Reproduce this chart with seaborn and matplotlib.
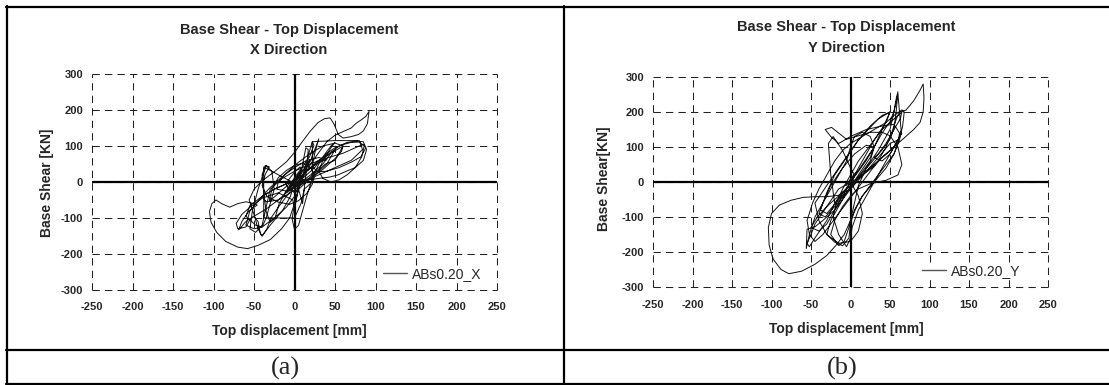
import matplotlib
matplotlib.use("Agg")
import matplotlib.pyplot as plt
from matplotlib.lines import Line2D
import pandas as pd
import seaborn as sns

# ---------------------------------------------------------------- data
# Hysteresis path, X direction (top displacement [mm], base shear [kN])
disp_x = [
    0, 4, 9, 7, 1, -6, -11, -6, 3, 11,
    16, 19, 13, 1, -14, -25, -31, -28, -20, -10,
    0, 10, 20, 25, 22, 15, 5, -6, -20, -34,
    -40, -36, -31, -36, -40, -38, -35, -30, -24, -19,
    -9, 0, 10, 19, 24, 22, 18, 12, 5, 0,
    -3, 0, 5, 10, 15, 22, 30, 40, 50, 60,
    70, 80, 86, 83, 75, 65, 55, 45, 35, 30,
    35, 45, 50, 45, 35, 25, 10, -5, -20, -35,
    -46, -55, -61, -66, -69, -65, -56, -46, -50, -60,
    -70, -80, -90, -97, -102, -105, -103, -96, -85, -70,
    -58, -45, -30, -16, -6, 0, 5, 10, 20, 30,
    40, 50, 60, 70, 76, 82, 88, 92, 90, 85,
    79, 70, 60, 54, 49, 44, 37, 29, 19, 9,
    0, -10, -24, -39, -50, -56, -50, -45, -40, -34,
    -29, -20, -10, 0, 10, 25, 40, 55, 65, 75,
    85, 89, 85, 75, 64, 54, 44, 30, 15, 5,
    -2, 6, -6, 9, -9, 13, -12, 7, -3, -20,
    -38, -38, -38, -20, 0, 8, 12, 22, 22, 22,
    50, 80, 84, 70, 40, 20, 0,
    # further cycles
    15, 30, 40, 30, 15, 0, -15, -30, -40, -35,
    -20, -5, 10, 25, 38, 50, 60, 50, 35, 20,
    5, -10, -20, -22, -10, 5, 20, 35, 50, 58,
    60, 45, 35, 20, 5, -5, 0, 10, 25, 40,
    50, 30, 10, 0, -10, -25, -40, -55, -60, -50,
    -40, -25, -10, 0, 5, 0, -10, -25, -40, -55,
    -60, -48, -40, -35, -30, -25, -28, -35, -45, -52,
    -55, -48, -40, -35, -30, -15, 0, 15, 30, 45,
    60, 75, 85, 88, 82, 70, 55, 40, 28, 22,
    25, 30, 20, 10, 5, 10, 12, 15, 17, 14,
    10, 6, 3, 0, -2, -20, -40, -55, -65, -72,
    -70, -60, -55, -50, -45, -42, -40, -30, -15, -5,
    0,
]
shear_x = [
    0, 12, 28, 42, 30, 10, -6, -22, -12, 16,
    46, 62, 40, 10, -20, -42, -52, -20, 12, 32,
    46, 52, 40, 20, -6, -32, -52, -62, -56, -40,
    -10, 22, 42, 46, 20, -30, -82, -112, -100, -60,
    -20, 12, 42, 72, 102, 112, 82, 30, -22, -62,
    -102, -132, -120, -80, -40, 10, 50, 80, 95, 104,
    110, 111, 100, 70, 40, 20, 6, 0, 10, 30,
    60, 95, 110, 100, 70, 40, 10, -20, -50, -75,
    -90, -102, -112, -126, -133, -110, -80, -64, -60, -55,
    -60, -70, -60, -50, -60, -82, -112, -140, -165, -181,
    -185, -176, -160, -130, -100, -60, -20, 12, 50, 82,
    112, 130, 140, 150, 163, 172, 182, 196, 162, 142,
    132, 126, 122, 132, 160, 178, 176, 165, 140, 110,
    82, 56, 30, 5, -20, -50, -90, -130, -150, -130,
    -100, -70, -40, -10, 20, 50, 72, 100, 110, 113,
    112, 90, 60, 40, 30, 20, 14, 10, 5, 0,
    -8, 22, -14, 35, -28, 38, -32, 16, 0, 20,
    42, -40, -100, -100, -100, -60, -20, 0, 60, 112,
    115, 115, 90, 60, 30, 10, 0,
    # further cycles
    30, 55, 62, 68, 60, 40, 15, -15, -40, -55,
    -50, -30, -5, 25, 50, 60, 100, 108, 100, 80,
    55, 25, 0, -20, -25, -10, 10, 35, 65, 85,
    100, 80, 50, 20, -5, -20, -30, -10, 20, 50,
    90, 60, 20, 5, -5, -20, -40, -80, -120, -130,
    -125, -100, -70, -40, -10, 5, -5, -20, -40, -65,
    -95, -120, -125, -100, -60, -20, 30, 45, -20, -80,
    -130, -140, -120, -70, -20, 10, 30, 45, 60, 70,
    80, 95, 105, 95, 70, 55, 40, 30, 28, 45,
    80, 120, 60, 20, -20, -60, -20, 40, 90, 95,
    50, 0, -40, -75, -50, -30, -45, -70, -90, -115,
    -130, -125, -105, -95, -110, -145, -150, -120, -80, -40,
    0,
]

# Hysteresis path, Y direction
disp_y = [
    0, 10, 20, 30, 40, 50, 55, 58, 60, 58,
    55, 50, 40, 25, 10, 0, -10, -20, -35, -45,
    -55, -56, -52, -45, -35, -25, -15, -5, 0, 5,
    15, 25, 30, 25, 15, 5, -5, -15, -25, -30,
    -20, -10, -2, 0, 5, 15, 30, 45, 55, 62,
    66, 68, 65, 55, 45, 30, 15, 0, -10, -20,
    -30, -40, -48, -55, -52, -45, -35, -25, -15, -5,
    5, 15, 25, 35, 45, 52, 58, 62, 70, 80,
    88, 92, 93, 92, 88, 80, 70, 60, 50, 40,
    30, 15, 0, -15, -30, -45, -60, -75, -90, -100,
    -104, -103, -98, -88, -78, -62, -45, -30, -18, -8,
    0, 8, 15, 25, 35, 45, 55, 60, 62, 55,
    40, 20, 0, -15, -25, -32, -24, -15, -5, 10,
    25, 40, 50, 60, 65, 60, 45, 25, 10, 0,
    -10, -20, -25, -15, -8, -2, 5, 10, 20, 35,
    50, 57, 60, 62, 64, 60, 45, 30, 15, 5,
    -5, -15, -30, -42, -50, -40, -30, -20, -10, 0,
    8, -6, 4, 0,
    # further cycles
    15, 30, 20, 5, -10, -25, -35, -40, -32, -20,
    -5, 10, 25, 30, 40, 50, 40, 25, 10, -5,
    -20, -30, -38, -30, -15, 0, 15, 30, 45, 50,
    35, 10, -15, -30, -45, -40, -30, -15, 0, 10,
    15, 10, 0, -15, -30, -45, -50, -55, -52, -45,
    -30, -20, -25, -28, -22, -10, 0, 5, 0, -10,
    -20, 0, 20, 40, 55, 65, 60, 50, 40, 30,
    35, 45, 55, 63, 65, 40, 10, -10, -18, -22,
    -15, -5, 0, 2, 10, 25, 40, 50, 60, 50,
    35, 20, 10, 0,
]
shear_y = [
    0, 30, 62, 100, 140, 172, 202, 240, 258, 205,
    152, 122, 92, 52, 12, -20, -50, -80, -110, -128,
    -135, -190, -150, -100, -60, -20, 20, 60, 100, 130,
    142, 130, 100, 60, 30, 0, -30, -70, -110, -150,
    -172, -182, -160, -120, -80, -40, 0, 40, 80, 120,
    160, 200, 206, 190, 170, 150, 130, 110, 90, 60,
    20, -20, -60, -110, -150, -170, -150, -120, -90, -60,
    -30, 0, 30, 60, 100, 140, 180, 200, 205, 232,
    262, 280, 240, 200, 170, 150, 130, 110, 90, 70,
    45, 20, -10, -38, -42, -42, -44, -52, -66, -90,
    -130, -180, -220, -250, -262, -255, -235, -210, -180, -150,
    -110, -70, -40, -10, 20, 50, 80, 110, 140, 165,
    160, 150, 130, 110, 130, 150, 156, 140, 122, 132,
    142, 142, 132, 100, 50, 20, 5, -5, -20, -40,
    -70, -110, -150, -182, -170, -130, -60, -10, 40, 90,
    150, 220, 252, 200, 150, 110, 80, 50, 20, 0,
    -20, -40, -70, -100, -130, -140, -120, -80, -40, 0,
    30, -10, 20, 0,
    # further cycles
    50, 100, 105, 80, 40, -10, -60, -90, -100, -70,
    -30, 20, 70, 100, 150, 200, 190, 160, 120, 70,
    20, -30, -80, -90, -50, 0, 60, 120, 170, 200,
    180, 120, 40, -10, -60, -110, -150, -175, -170, -140,
    -90, -40, 0, -20, -70, -120, -150, -175, -185, -160,
    -110, -60, 20, 110, 130, 90, 40, 20, -20, -30,
    -60, -20, 30, 70, 100, 140, 120, 80, 60, 70,
    80, 110, 150, 180, 200, 150, 60, -20, -60, -100,
    -150, -185, -160, -130, -80, -20, 40, 80, 120, 110,
    70, 30, 10, 0,
]

x_ticks = [-250, -200, -150, -100, -50, 0, 50, 100, 150, 200, 250]
y_ticks = [-300, -200, -100, 0, 100, 200, 300]

panels = [
    dict(disp=disp_x, shear=shear_x, series="ABs0.20_X",
         title="Base Shear - Top Displacement", subtitle="X Direction",
         ylabel="Base Shear [KN]", caption="(a)"),
    dict(disp=disp_y, shear=shear_y, series="ABs0.20_Y",
         title="Base Shear - Top Displacement", subtitle="Y Direction",
         ylabel="Base Shear[KN]", caption="(b)"),
]

# ---------------------------------------------------------------- style
sns.set_style("white")
plt.rcParams["font.family"] = ["Liberation Sans", "DejaVu Sans"]

W, H = 1109, 385
fig = plt.figure(figsize=(W / 100, H / 100), dpi=100)


def fx(px):
    return px / W


def fy(py):
    return 1 - py / H


# pixel boxes of the plot areas: (left, top, right, bottom)
boxes = [(92, 74, 497, 290), (653, 77, 1048, 287)]
title_x = [289, 846]
title_y = [(30, 49.5), (27, 48)]
xlabel_y = [331, 328.5]
ylabel_x = [47, 604]
ylabel_yc = [183, 179]
caption_x = [285.5, 842]
legend_anchor = [(383, 274), (922, 271)]

for p, (l, t, r, b), tx, (ty1, ty2), xly, ylx, ylyc, cx, (lgx, lgy) in zip(
        panels, boxes, title_x, title_y, xlabel_y, ylabel_x, ylabel_yc,
        caption_x, legend_anchor):
    ax = fig.add_axes([fx(l), fy(b), fx(r) - fx(l), fy(t) - fy(b)])
    df = pd.DataFrame({"disp": p["disp"], "shear": p["shear"]})

    ax.axhline(0, color="black", lw=1.6, zorder=2)
    ax.axvline(0, color="black", lw=1.6, zorder=2)
    sns.lineplot(data=df, x="disp", y="shear", sort=False, estimator=None,
                 color="#111111", lw=0.7, ax=ax, label=p["series"], zorder=3)

    ax.set_xlim(-250, 250)
    ax.set_ylim(-300, 300)
    ax.set_xticks(x_ticks)
    ax.set_yticks(y_ticks)
    ax.set_xticklabels([str(v) for v in x_ticks])
    ax.set_yticklabels([str(v) for v in y_ticks])
    for s in ax.spines.values():
        s.set_visible(False)
    ax.grid(True, color="#222222", lw=0.75, linestyle=(0, (7, 5)))
    for gl in ax.get_xgridlines() + ax.get_ygridlines():
        gl.set_clip_on(False)
    ax.tick_params(axis="both", length=0, labelsize=8)
    ax.tick_params(axis="x", pad=9)
    ax.tick_params(axis="y", pad=6.5)
    for lab in ax.get_xticklabels() + ax.get_yticklabels():
        lab.set_fontweight("bold")

    ax.set_xlabel("Top displacement [mm]", fontsize=10, fontweight="bold",
                  va="center")
    ax.xaxis.set_label_coords(fx(tx), fy(xly), transform=fig.transFigure)
    ax.set_ylabel(p["ylabel"], fontsize=10, fontweight="bold", va="center")
    ax.yaxis.set_label_coords(fx(ylx), fy(ylyc), transform=fig.transFigure)

    fig.text(fx(tx), fy(ty1), p["title"], ha="center", va="center",
             fontsize=10.5, fontweight="bold")
    fig.text(fx(tx), fy(ty2), p["subtitle"], ha="center", va="center",
             fontsize=10.5, fontweight="bold")

    ax_pt = ax.transAxes.inverted().transform(
        fig.transFigure.transform((fx(lgx), fy(lgy))))
    leg = ax.legend(loc="center left", bbox_to_anchor=tuple(ax_pt),
                    frameon=True, fancybox=False, borderpad=0.0,
                    borderaxespad=0.0, handlelength=1.7, handletextpad=0.35,
                    fontsize=10)
    leg.get_frame().set_facecolor("white")
    leg.get_frame().set_edgecolor("none")
    leg.get_frame().set_alpha(1.0)
    for hl in leg.get_lines():
        hl.set_color("#555555")
        hl.set_linewidth(1.0)

    fig.text(fx(cx), fy(368), p["caption"], ha="center", va="center",
             fontsize=19, family=["Liberation Serif", "DejaVu Serif"])

# table rules around the two panels and their captions
rule = dict(color="black", lw=1.6, transform=fig.transFigure)
fig.add_artist(Line2D([fx(6), fx(W)], [fy(7), fy(7)], **rule))
fig.add_artist(Line2D([fx(6), fx(W)], [fy(350), fy(350)], **rule))
fig.add_artist(Line2D([fx(6), fx(W)], [fy(384), fy(384)], **rule))
fig.add_artist(Line2D([fx(7), fx(7)], [fy(6), fy(385)], **rule))
fig.add_artist(Line2D([fx(564), fx(564)], [fy(6), fy(385)], **rule))

fig.savefig("out.png", dpi=100, facecolor="white")
